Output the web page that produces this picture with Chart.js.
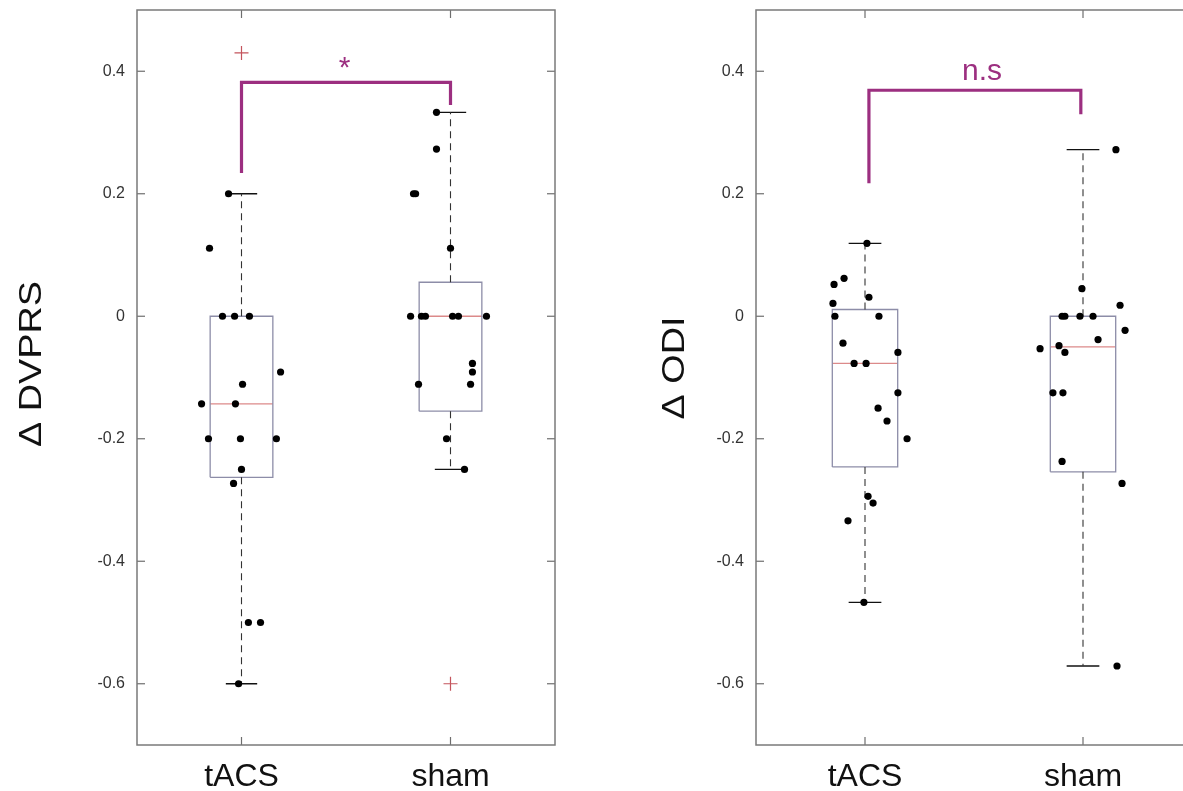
<!DOCTYPE html>
<html>
<head>
<meta charset="utf-8">
<script src="https://cdn.jsdelivr.net/npm/chart.js@4"></script>
<style>
html, body { margin: 0; padding: 0; background: #fff; overflow: hidden; width: 1183px; height: 791px; }
.wrap { position: absolute; top: 0; height: 791px; width: 600px; }
#w1 { left: 0; }
#w2 { left: 600px; }
</style>
</head>
<body>
<div class="wrap" id="w1"><canvas id="c1"></canvas></div>
<div class="wrap" id="w2"><canvas id="c2"></canvas></div>
<script>
const categories = ['tACS', 'sham'];
const yTicks = [-0.6, -0.4, -0.2, 0, 0.2, 0.4];

// left panel: delta DVPRS (x = jittered position, y = value)
const dvprsTacsX = [0.938, 0.847, 0.909, 0.967, 1.038, 1.187, 1.005, 0.809, 0.971, 0.842, 0.995, 1.167, 1.0, 0.962, 1.033, 1.091, 0.986];
const dvprsTacsY = [0.2, 0.111, 0, 0, 0, -0.091, -0.111, -0.143, -0.143, -0.2, -0.2, -0.2, -0.25, -0.273, -0.5, -0.5, -0.6];
const dvprsShamX = [1.933, 1.933, 1.823, 1.833, 2.0, 1.809, 1.861, 1.880, 2.010, 2.038, 2.172, 2.105, 2.105, 2.096, 1.847, 1.981, 2.067];
const dvprsShamY = [0.333, 0.273, 0.2, 0.2, 0.111, 0, 0, 0, 0, 0, 0, -0.077, -0.091, -0.111, -0.111, -0.2, -0.25];
const dvprsOutX = [1, 2];
const dvprsOutY = [0.43, -0.6];
const dvprsQ1 = [-0.263, -0.155];
const dvprsMed = [-0.143, 0];
const dvprsQ3 = [0, 0.0555];
const dvprsLo = [-0.6, -0.25];
const dvprsHi = [0.2, 0.333];
const dvprsBracketX = [1.0, 2.0];
const dvprsBracketY = [0.234, 0.382, 0.345];

// right panel: delta ODI
const odiTacsX = [1.009, 0.858, 0.904, 1.018, 0.853, 0.862, 1.064, 0.899, 1.151, 0.950, 1.005, 1.151, 1.060, 1.101, 1.193, 1.014, 1.037, 0.922, 0.995];
const odiTacsY = [0.119, 0.052, 0.062, 0.031, 0.021, 0, 0, -0.044, -0.059, -0.077, -0.077, -0.125, -0.150, -0.171, -0.2, -0.294, -0.305, -0.334, -0.467];
const odiShamX = [2.151, 1.995, 2.170, 1.904, 1.917, 1.986, 2.046, 2.193, 2.069, 1.803, 1.890, 1.917, 1.862, 1.908, 1.904, 2.179, 2.156];
const odiShamY = [0.272, 0.045, 0.018, 0, 0, 0, 0, -0.023, -0.038, -0.053, -0.048, -0.059, -0.125, -0.125, -0.237, -0.273, -0.571];
const odiQ1 = [-0.246, -0.254];
const odiMed = [-0.077, -0.05];
const odiQ3 = [0.011, 0];
const odiLo = [-0.467, -0.571];
const odiHi = [0.119, 0.272];
const odiBracketX = [1.018, 1.99];
const odiBracketY = [0.217, 0.369, 0.33];

const FONT = '"Liberation Sans", Arial, Helvetica, sans-serif';
const purple = '#9c2f80';

function seg(points, color, width, dash) {
  return {
    type: 'scatter', data: points, showLine: true, pointRadius: 0, fill: false,
    borderColor: color, borderWidth: width, borderDash: dash || [], order: 1,
    borderCapStyle: 'butt', borderJoinStyle: 'miter'
  };
}

function buildDatasets(p) {
  const ds = [];
  const bw = 0.15, cw = 0.075;
  for (let i = 0; i < 2; i++) {
    const c = i + 1;
    ds.push(seg([{x: c, y: p.q3[i]}, {x: c, y: p.hi[i]}], '#333', 1.1, [7, 5]));
    ds.push(seg([{x: c, y: p.q1[i]}, {x: c, y: p.lo[i]}], '#333', 1.1, [7, 5]));
    ds.push(seg([{x: c - cw, y: p.hi[i]}, {x: c + cw, y: p.hi[i]}], '#111', 1.3));
    ds.push(seg([{x: c - cw, y: p.lo[i]}, {x: c + cw, y: p.lo[i]}], '#111', 1.3));
    ds.push(seg([{x: c - bw, y: p.q1[i]}, {x: c + bw, y: p.q1[i]}, {x: c + bw, y: p.q3[i]},
                 {x: c - bw, y: p.q3[i]}, {x: c - bw, y: p.q1[i]}], '#8d8da8', 1.3));
    ds.push(seg([{x: c - bw, y: p.med[i]}, {x: c + bw, y: p.med[i]}], '#dc8a8a', 1.3));
  }
  const bx = p.bracketX, by = p.bracketY;
  ds.push(seg([{x: bx[0], y: by[0]}, {x: bx[0], y: by[1]}, {x: bx[1], y: by[1]}, {x: bx[1], y: by[2]}], purple, 3.2));
  const pts = p.xs.map((x, k) => ({x: x, y: p.ys[k]}));
  ds.push({type: 'scatter', data: pts, pointRadius: 3.6, pointBackgroundColor: '#000', pointBorderColor: '#000', pointBorderWidth: 0, order: 0});
  if (p.outX.length) {
    ds.push({type: 'scatter', data: p.outX.map((x, k) => ({x: x, y: p.outY[k]})),
      pointStyle: 'cross', pointRadius: 7, pointBorderColor: '#c4545c', pointBorderWidth: 1.2, order: 0});
  }
  return ds;
}

const framePlugin = {
  id: 'frame',
  afterDraw(chart, args, o) {
    const {ctx, chartArea: a, scales: {x, y}} = chart;
    ctx.save();
    const ln = (x1, y1, x2, y2) => { ctx.beginPath(); ctx.moveTo(x1, y1); ctx.lineTo(x2, y2); ctx.stroke(); };
    ctx.strokeStyle = '#6e6e6e';
    ctx.lineWidth = 1.2;
    yTicks.forEach(v => {
      const py = y.getPixelForValue(v);
      ln(a.left, py, a.left + 8, py);
      ln(a.right - 8, py, a.right, py);
    });
    categories.forEach((c, i) => {
      const px = x.getPixelForValue(i + 1);
      ln(px, a.bottom, px, a.bottom - 8);
      ln(px, a.top, px, a.top + 8);
    });
    ctx.strokeStyle = '#7a7a7a';
    ctx.lineWidth = 1.5;
    ctx.strokeRect(a.left, a.top, a.right - a.left, a.bottom - a.top);

    // significance label
    ctx.fillStyle = purple;
    ctx.textAlign = 'center';
    ctx.textBaseline = 'middle';
    ctx.font = o.sigSize + 'px ' + FONT;
    ctx.fillText(o.sig, x.getPixelForValue(o.sigX), y.getPixelForValue(o.sigY) + o.sigShift);

    // y axis title
    ctx.fillStyle = '#111';
    ctx.translate(o.titleX, o.titleY);
    ctx.rotate(-Math.PI / 2);
    ctx.scale(1.22, 1);
    ctx.font = '31px ' + FONT;
    ctx.fillText(o.title, 0, 0);
    ctx.restore();
  }
};

function makeChart(id, p, yWidth, padRight, opts) {
  return new Chart(document.getElementById(id), {
    type: 'scatter',
    data: { datasets: buildDatasets(p) },
    options: {
      responsive: true,
      maintainAspectRatio: false,
      animation: false,
      layout: { padding: { top: 10, right: padRight, left: 0, bottom: 0 } },
      plugins: { legend: { display: false }, tooltip: { enabled: false }, frame: opts },
      scales: {
        x: {
          type: 'linear', min: 0.5, max: 2.5,
          afterBuildTicks: s => { s.ticks = categories.map((c, i) => ({value: i + 1})); },
          afterFit: s => { s.height = 46; s.paddingLeft = 0; s.paddingRight = 0; },
          ticks: { callback: v => categories[Math.round(v) - 1], font: { family: FONT, size: 32 }, color: '#111', padding: 13, maxRotation: 0, autoSkip: false },
          grid: { display: false, drawTicks: false },
          border: { display: false }
        },
        y: {
          min: -0.7, max: 0.5,
          afterBuildTicks: s => { s.ticks = yTicks.map(v => ({value: v})); },
          afterFit: s => { s.width = yWidth; s.paddingTop = 0; s.paddingBottom = 0; },
          ticks: { callback: v => (Math.abs(v) < 1e-9 ? '0' : v.toFixed(1)), font: { family: FONT, size: 16 }, color: '#333', padding: 12 },
          grid: { display: false, drawTicks: false },
          border: { display: false }
        }
      }
    },
    plugins: [framePlugin]
  });
}

makeChart('c1', {
  xs: dvprsTacsX.concat(dvprsShamX), ys: dvprsTacsY.concat(dvprsShamY),
  outX: dvprsOutX, outY: dvprsOutY,
  q1: dvprsQ1, med: dvprsMed, q3: dvprsQ3, lo: dvprsLo, hi: dvprsHi,
  bracketX: dvprsBracketX, bracketY: dvprsBracketY
}, 137, 45, { sig: '*', sigX: 1.493, sigY: 0.416, sigSize: 30, sigShift: 7, title: '\u0394 DVPRS', titleX: 32, titleY: 364 });

makeChart('c2', {
  xs: odiTacsX.concat(odiShamX), ys: odiTacsY.concat(odiShamY),
  outX: [], outY: [],
  q1: odiQ1, med: odiMed, q3: odiQ3, lo: odiLo, hi: odiHi,
  bracketX: odiBracketX, bracketY: odiBracketY
}, 156, 8, { sig: 'n.s', sigX: 1.537, sigY: 0.395, sigSize: 30, sigShift: -3, title: '\u0394 ODI', titleX: 75, titleY: 368 });
</script>
</body>
</html>
